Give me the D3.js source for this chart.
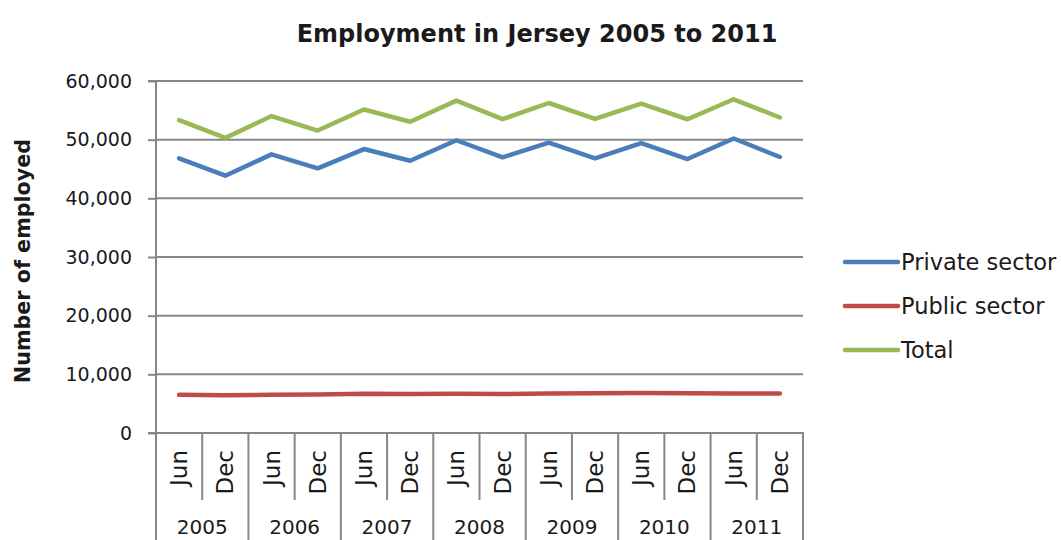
<!DOCTYPE html>
<html>
<head>
<meta charset="utf-8">
<script src="https://cdn.jsdelivr.net/npm/d3@7/dist/d3.min.js"></script>
<style>
  html, body { margin: 0; padding: 0; background: #fff; }
  svg { display: block; }
  text { font-family: "DejaVu Sans", "Liberation Sans", sans-serif; fill: #1a1a1a; }
</style>
</head>
<body>
<svg id="chart" width="1061" height="540"></svg>
<script>
// Half-year employment figures for Jersey
const years = ["2005", "2006", "2007", "2008", "2009", "2010", "2011"];
const months = ["Jun", "Dec"];
const privateSector = [46820, 43860, 47500, 45110, 48400, 46410, 49900, 46990, 49480, 46820, 49400, 46700, 50200, 47040];
const publicSector  = [6500, 6450, 6520, 6560, 6700, 6650, 6700, 6650, 6720, 6760, 6800, 6760, 6720, 6720];
const total         = [53330, 50300, 54020, 51550, 55150, 53060, 56650, 53500, 56250, 53550, 56150, 53480, 56880, 53780];
const yTicks = [0, 10000, 20000, 30000, 40000, 50000, 60000];

const seriesNames  = ["Private sector", "Public sector", "Total"];
const seriesColors = ["#4A7EBB", "#BE4B48", "#98B954"];
const seriesData   = [privateSector, publicSector, total];

const svg = d3.select("#chart");
const plotLeft = 156, plotRight = 803, plotTop = 81, plotBottom = 433;
const gridColor = "#878787";

const periods = years.flatMap(y => months.map(m => ({ year: y, month: m })));

const x = d3.scaleBand().domain(d3.range(periods.length)).range([plotLeft, plotRight]).padding(0);
const y = d3.scaleLinear().domain([0, 60000]).range([plotBottom, plotTop]);
const cx = i => x(i) + x.bandwidth() / 2;

// Horizontal gridlines
svg.append("g")
  .selectAll("line")
  .data(yTicks.filter(t => t > 0))
  .join("line")
  .attr("x1", plotLeft).attr("x2", plotRight)
  .attr("y1", d => y(d)).attr("y2", d => y(d))
  .attr("stroke", gridColor).attr("stroke-width", 2);

// Value axis
const yAxis = d3.axisLeft(y)
  .tickValues(yTicks)
  .tickFormat(d3.format(","))
  .tickSize(8)
  .tickPadding(16);
const yg = svg.append("g").attr("transform", `translate(${plotLeft},0)`).call(yAxis);
yg.select(".domain").attr("stroke", gridColor).attr("stroke-width", 2).attr("d", `M-8,${plotTop}H0V${plotBottom}`);
yg.selectAll(".tick line").attr("stroke", gridColor).attr("stroke-width", 2);
yg.selectAll(".tick text").attr("font-size", 19).attr("fill", "#1a1a1a")
  .attr("font-family", "DejaVu Sans, sans-serif");

// Category axis line
svg.append("line")
  .attr("x1", plotLeft - 8).attr("x2", plotRight + 1)
  .attr("y1", plotBottom).attr("y2", plotBottom)
  .attr("stroke", gridColor).attr("stroke-width", 2);

// Dividers between half-years (short) and between years (long)
const dividers = d3.range(periods.length + 1);
svg.append("g")
  .selectAll("line")
  .data(dividers)
  .join("line")
  .attr("x1", i => i < periods.length ? x(i) : plotRight)
  .attr("x2", i => i < periods.length ? x(i) : plotRight)
  .attr("y1", plotBottom)
  .attr("y2", i => i % 2 === 0 ? 545 : 500)
  .attr("stroke", gridColor).attr("stroke-width", 2);

// Month labels, rotated
svg.append("g")
  .selectAll("text")
  .data(periods)
  .join("text")
  .attr("transform", (d, i) => `translate(${cx(i) + 8},450) rotate(-90)`)
  .attr("text-anchor", "end")
  .attr("font-size", 23)
  .text(d => d.month);

// Year labels
svg.append("g")
  .selectAll("text")
  .data(years)
  .join("text")
  .attr("x", (d, i) => x(i * 2) + x.bandwidth())
  .attr("y", 534)
  .attr("text-anchor", "middle")
  .attr("font-size", 20)
  .text(d => d);

// Series lines
const line = d3.line().x((d, i) => cx(i)).y(d => y(d));
svg.append("g")
  .selectAll("path")
  .data(seriesData)
  .join("path")
  .attr("d", d => line(d))
  .attr("fill", "none")
  .attr("stroke", (d, i) => seriesColors[i])
  .attr("stroke-width", 4.5)
  .attr("stroke-linejoin", "round")
  .attr("stroke-linecap", "round");

// Title
svg.append("text")
  .attr("x", 537).attr("y", 42)
  .attr("text-anchor", "middle")
  .attr("font-size", 24)
  .attr("font-weight", "bold")
  .text("Employment in Jersey 2005 to 2011");

// Value axis title
svg.append("text")
  .attr("transform", "translate(30,261) rotate(-90)")
  .attr("text-anchor", "middle")
  .attr("font-size", 20.7)
  .attr("font-weight", "bold")
  .text("Number of employed");

// Legend
const legend = svg.append("g")
  .selectAll("g")
  .data(seriesNames)
  .join("g")
  .attr("transform", (d, i) => `translate(843,${262 + i * 44})`);
legend.append("line")
  .attr("x1", 2).attr("x2", 55)
  .attr("stroke", (d, i) => seriesColors[i])
  .attr("stroke-width", 4.5)
  .attr("stroke-linecap", "round");
legend.append("text")
  .attr("x", 58).attr("y", 8)
  .attr("font-size", 22.5)
  .text(d => d);
</script>
</body>
</html>
